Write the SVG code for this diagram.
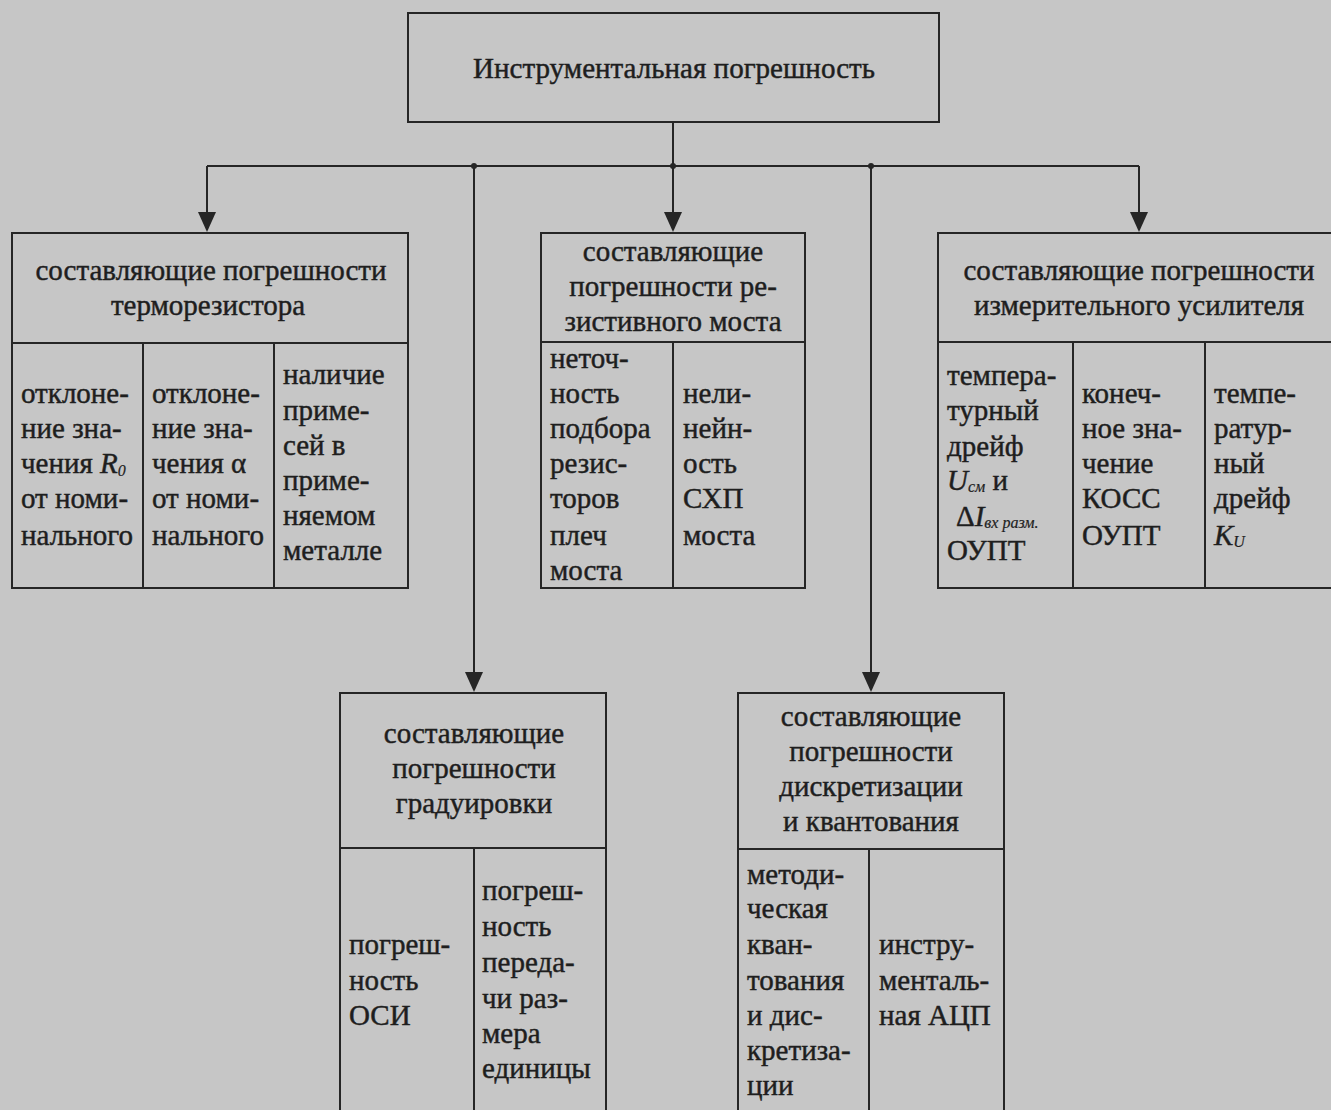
<svg xmlns="http://www.w3.org/2000/svg" width="1331" height="1110" viewBox="0 0 1331 1110">
<defs>
<style>
.bg{fill:#c6c6c6}
.box{fill:none;stroke:#262626;stroke-width:2}
.ln{stroke:#262626;stroke-width:2;fill:none}
.ah{fill:#262626}
.t{font-family:"Liberation Serif","DejaVu Serif",serif;font-size:29px;fill:#1e1e1e;stroke:#1e1e1e;stroke-width:0.45}
.c{text-anchor:middle}
.sub{font-size:16px;font-style:italic;stroke-width:0.2}
.it{font-style:italic}
</style>
</defs>
<rect class="bg" x="0" y="0" width="1331" height="1110"/>

<g id="connectors">
<line class="ln" x1="673" y1="122" x2="673" y2="166"/>
<line class="ln" x1="207" y1="166" x2="1139" y2="166"/>
<path d="M207,166 V214" class="ln"/>
<path class="ah" d="M198,212 L216,212 L207,232 Z"/>
<path d="M673,166 V214" class="ln"/>
<path class="ah" d="M664,212 L682,212 L673,232 Z"/>
<path d="M1139,166 V214" class="ln"/>
<path class="ah" d="M1130,212 L1148,212 L1139,232 Z"/>
<path d="M474,166 V674" class="ln"/>
<path class="ah" d="M465,672 L483,672 L474,692 Z"/>
<path d="M871,166 V674" class="ln"/>
<path class="ah" d="M862,672 L880,672 L871,692 Z"/>
<circle cx="474" cy="166" r="3" fill="#262626"/>
<circle cx="673" cy="166" r="3" fill="#262626"/>
<circle cx="871" cy="166" r="3" fill="#262626"/>
</g>

<g id="root">
<rect class="box" x="408" y="13" width="531" height="109"/>
<text class="t c" x="674" y="78" textLength="402" lengthAdjust="spacingAndGlyphs">Инструментальная погрешность</text>
</g>

<g id="thermo">
<rect class="box" x="12" y="233" width="396" height="355"/>
<line class="ln" x1="12" y1="343" x2="408" y2="343"/>
<line class="ln" x1="143" y1="343" x2="143" y2="588"/>
<line class="ln" x1="274" y1="343" x2="274" y2="588"/>
<text class="t c" x="211" y="280">составляющие погрешности</text>
<text class="t c" x="208" y="315">терморезистора</text>
<text class="t" x="21" y="403">отклоне-</text>
<text class="t" x="21" y="438">ние зна-</text>
<text class="t" x="21" y="473">чения <tspan class="it">R</tspan><tspan class="sub" dy="3">0</tspan></text>
<text class="t" x="21" y="508">от номи-</text>
<text class="t" x="21" y="545">нального</text>
<text class="t" x="152" y="403">отклоне-</text>
<text class="t" x="152" y="438">ние зна-</text>
<text class="t" x="152" y="473">чения  α</text>
<text class="t" x="152" y="508">от номи-</text>
<text class="t" x="152" y="545">нального</text>
<text class="t" x="283" y="384">наличие</text>
<text class="t" x="283" y="420">приме-</text>
<text class="t" x="283" y="455">сей в</text>
<text class="t" x="283" y="490">приме-</text>
<text class="t" x="283" y="525">няемом</text>
<text class="t" x="283" y="560">металле</text>
</g>

<g id="bridge">
<rect class="box" x="541" y="233" width="264" height="355"/>
<line class="ln" x1="541" y1="342" x2="805" y2="342"/>
<line class="ln" x1="673" y1="342" x2="673" y2="588"/>
<text class="t c" x="673" y="261">составляющие</text>
<text class="t c" x="673" y="296">погрешности ре-</text>
<text class="t c" x="673" y="331">зистивного моста</text>
<text class="t" x="550" y="368">неточ-</text>
<text class="t" x="550" y="403">ность</text>
<text class="t" x="550" y="438">подбора</text>
<text class="t" x="550" y="473">резис-</text>
<text class="t" x="550" y="508">торов</text>
<text class="t" x="550" y="545">плеч</text>
<text class="t" x="550" y="580">моста</text>
<text class="t" x="683" y="403">нели-</text>
<text class="t" x="683" y="438">нейн-</text>
<text class="t" x="683" y="473">ость</text>
<text class="t" x="683" y="508">СХП</text>
<text class="t" x="683" y="545">моста</text>
</g>

<g id="amplifier">
<rect class="box" x="938" y="233" width="400" height="355"/>
<line class="ln" x1="938" y1="342" x2="1338" y2="342"/>
<line class="ln" x1="1073" y1="342" x2="1073" y2="588"/>
<line class="ln" x1="1205" y1="342" x2="1205" y2="588"/>
<text class="t c" x="1139" y="280">составляющие погрешности</text>
<text class="t c" x="1139" y="315">измерительного усилителя</text>
<text class="t" x="947" y="385">темпера-</text>
<text class="t" x="947" y="420">турный</text>
<text class="t" x="947" y="456">дрейф</text>
<text class="t" x="947" y="490"><tspan class="it">U</tspan><tspan class="sub" dy="2">см</tspan><tspan dy="-2"> и</tspan></text>
<text class="t" x="956" y="526">Δ<tspan class="it">I</tspan><tspan class="sub" dy="2">вх разм.</tspan></text>
<text class="t" x="947" y="560">ОУПТ</text>
<text class="t" x="1082" y="403">конеч-</text>
<text class="t" x="1082" y="438">ное зна-</text>
<text class="t" x="1082" y="473">чение</text>
<text class="t" x="1082" y="508">КОСС</text>
<text class="t" x="1082" y="545">ОУПТ</text>
<text class="t" x="1214" y="403">темпе-</text>
<text class="t" x="1214" y="438">ратур-</text>
<text class="t" x="1214" y="473">ный</text>
<text class="t" x="1214" y="508">дрейф</text>
<text class="t" x="1214" y="545"><tspan class="it">K</tspan><tspan class="sub it" dy="2">U</tspan></text>
</g>

<g id="calibration">
<rect class="box" x="340" y="693" width="266" height="430"/>
<line class="ln" x1="340" y1="848" x2="606" y2="848"/>
<line class="ln" x1="474" y1="848" x2="474" y2="1115"/>
<text class="t c" x="474" y="743">составляющие</text>
<text class="t c" x="474" y="778">погрешности</text>
<text class="t c" x="474" y="813">градуировки</text>
<text class="t" x="349" y="954">погреш-</text>
<text class="t" x="349" y="990">ность</text>
<text class="t" x="349" y="1025">ОСИ</text>
<text class="t" x="482" y="900">погреш-</text>
<text class="t" x="482" y="936">ность</text>
<text class="t" x="482" y="972">переда-</text>
<text class="t" x="482" y="1008">чи раз-</text>
<text class="t" x="482" y="1043">мера</text>
<text class="t" x="482" y="1078">единицы</text>
</g>

<g id="quantization">
<rect class="box" x="738" y="693" width="266" height="430"/>
<line class="ln" x1="738" y1="849" x2="1004" y2="849"/>
<line class="ln" x1="869" y1="849" x2="869" y2="1115"/>
<text class="t c" x="871" y="726">составляющие</text>
<text class="t c" x="871" y="761">погрешности</text>
<text class="t c" x="871" y="796">дискретизации</text>
<text class="t c" x="871" y="831">и квантования</text>
<text class="t" x="747" y="884">методи-</text>
<text class="t" x="747" y="918">ческая</text>
<text class="t" x="747" y="954">кван-</text>
<text class="t" x="747" y="990">тования</text>
<text class="t" x="747" y="1025">и дис-</text>
<text class="t" x="747" y="1060">кретиза-</text>
<text class="t" x="747" y="1095">ции</text>
<text class="t" x="879" y="954">инстру-</text>
<text class="t" x="879" y="990">менталь-</text>
<text class="t" x="879" y="1025">ная АЦП</text>
</g>
</svg>
